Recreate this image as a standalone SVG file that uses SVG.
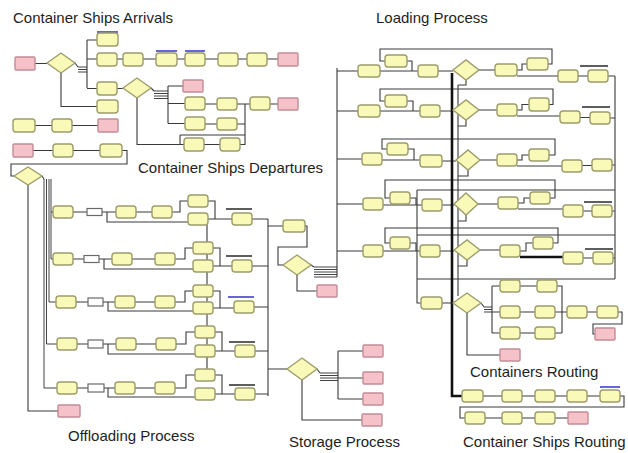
<svg xmlns="http://www.w3.org/2000/svg" width="628" height="453" viewBox="0 0 628 453">
<style>
.y{fill:#fafab8;stroke:#9c9c6c;stroke-width:1.4}
.p{fill:#f4c2c8;stroke:#c48c96;stroke-width:1.4}
.w{fill:#fff;stroke:#6a6a6a;stroke-width:1.2}
.c{fill:none;stroke:#3a3a3a;stroke-width:1.1}
.bus{fill:none;stroke:#2e2e2e;stroke-width:0.9}
.k{fill:none;stroke:#111;stroke-width:2.6}
.m{fill:none;stroke:#2a2a2a;stroke-width:1.4}
.bl{fill:none;stroke:#3434c8;stroke-width:1.6}
.t{font-family:"Liberation Sans",Arial,sans-serif;font-size:15px;fill:#1e1e1e}
</style>
<rect width="628" height="453" fill="#fff"/>
<g id="connectors">
<path class="c" d="M35 63.5H47M75 63L78 67M87 40V88M87 40H97M87 59H97M87 88.5H97M117 59H123M143 59H156M177 59H185M205 59H218M238 59H247M267 59H278M61 73V106.5H97M117 88.5H123M137 98V144.5H184M151 88L154 91M168 86V123.5M168 86H183M168 103.5H185M168 123.5H185M205 104H217M237 104H250M270 104H278M245 104V145M205 124H217M237 124H245M204 144.5H220M240 144.5H245M180 135H245M180 135V144.5"/>
<path class="bus" d="M78 67H87M78 69.5H87M78 72H87M154 91H168M154 93.5H168M154 96H168M154 98.5H168"/>
<path class="c" d="M35 125.5H52M72 125.5H98M33 150.5H53M73 150.5H100M122 150.5H127V164H11V176H14"/>
<path class="c" d="M28 185V411H58M42 176L44 179"/>
<path class="bus" d="M44 179V388M46.5 179V344M49 179V302M51 179V259M51 212H53M51 259H53M49 302H56M46.5 344H57M44 388H57"/>
<path class="c" d="M73 212H87M102 212H116M136 212H152M172 212H180V201H188M107 212V222H188M208 201H215V219M208 219H232M252 219H268"/>
<path class="c" d="M73 259H84M99 259H112M132 259H155M175 259H185V248H193M104 259V269H193M213 248H220V266M213 266H232M252 266H268"/>
<path class="c" d="M76 302H88M103 302H115M135 302H155M175 302H185V291H193M108 302V311H193M213 291H220V308M213 308H234M254 307H268"/>
<path class="c" d="M77 344H88M103 344H116M136 344H156M176 344H186V332H195M108 344V354H195M215 332H222V351M215 351H235M255 351H268"/>
<path class="c" d="M77 388H88M104 388H115M135 388H155M175 388H186V375H195M108 388V397H195M215 375H222V394M215 394H235M255 394H268"/>
<path class="c" d="M207 225V370M268 219V396M268 369H287"/>
<path class="m" d="M226 209H252M226 256H252M229 342H255M229 385H255"/>
<path class="bl" d="M228 297H254M97 32H118M156 51H177M185 51H205M600 387H620"/>
<path class="c" d="M268 226H283M305 226H307V247H278V265H283M297 275V291H317M311 265L314 267M337 68V277M337 71H358M337 111H358M337 159H362M337 204H363M337 251H363"/>
<path class="bus" d="M314 267H337M314 269.5H337M314 272H337M314 274.5H337M314 277H337"/>
<path class="c" d="M380 71H418M407 61H412V71M438 71H453M548 64H552V49H380V61H385M479 70H495M517 70H522V64H527M517 76H558M578 76H588M608 76H615M466 80V85H458"/>
<path class="c" d="M380 111H420M407 101H413V111M440 111H453M549 104.5H553V89H380V101H385M479 110H497M517 110H522V104.5H529M517 116H560M580 117.5H590M610 118H615M466 120V126H458"/>
<path class="c" d="M382 160H420M408 149H414V160M442 161H456M549 155H555V139H382V149H387M480 160H497M517 160H522V155H529M517 166H562M582 165.5H592M612 165H615M468 170V176H458"/>
<path class="c" d="M383 205H422M410 198H416V205M442 205H454M550 198H555V180H385V198H390M478 204H498M518 203H524V198H530M518 209H563M583 211H592M612 211H615M466 215V221H458"/>
<path class="c" d="M383 251H420M410 243H416V251M440 251H454M553 243H558V228H385V243H390M480 250H500M520 251H526V243H533M583 258H593M613 258H615M467 260V266H458"/>
<path class="k" d="M520 257H563"/>
<path class="m" d="M580 66H608M582 107H610M584 202H612M585 249H613"/>
<path class="c" d="M615 76V279M615 190H417M615 235H417M615 279H417M417 190V303H421M458 85V296M442 303H453"/>
<path class="k" d="M452 73V396H462"/>
<path class="c" d="M481 303L484 307M492 286V333M492 286H500M520 286H537M557 286H562V333M492 312H500M520 312H535M555 312H567M587 312H597M618 312H622V324H593V334H595M492 333H500M520 333H535M555 333H562M467 313V355H500"/>
<path class="bus" d="M484 307H492M484 309.5H492M484 312H492"/>
<path class="c" d="M483 396H502M522 396H535M555 396H567M587 396H600M620 396H624V407H460V418H465M485 418H502M522 418H535M555 418H568"/>
<path class="c" d="M317 369L320 373M338 351V399M338 351H363M338 378H363M338 399H363M302 380V420H362"/>
<path class="bus" d="M320 373H338M320 375.5H338M320 378H338M320 380.5H338"/>
</g>
<g id="arrivals">
<g id="a1"><rect class="p" x="15" y="57" width="20" height="13" rx="1"/></g>
<g id="ad1"><polygon class="y" points="47,63 61,53 75,63 61,73"/></g>
<g id="a2"><rect class="y" x="97" y="33" width="21" height="13" rx="3"/></g>
<g id="a3"><rect class="y" x="97" y="53" width="20" height="13" rx="3"/></g>
<g id="a4"><rect class="y" x="123" y="53" width="20" height="13" rx="3"/></g>
<g id="a5"><rect class="y" x="156" y="53" width="21" height="13" rx="3"/></g>
<g id="a6"><rect class="y" x="185" y="53" width="20" height="13" rx="3"/></g>
<g id="a7"><rect class="y" x="218" y="53" width="20" height="13" rx="3"/></g>
<g id="a8"><rect class="y" x="247" y="53" width="20" height="13" rx="3"/></g>
<g id="a9"><rect class="p" x="278" y="53" width="20" height="13" rx="1"/></g>
<g id="a10"><rect class="y" x="97" y="82" width="20" height="13" rx="3"/></g>
<g id="ad2"><polygon class="y" points="123,88 137,78 151,88 137,98"/></g>
<g id="a11"><rect class="y" x="97" y="100" width="21" height="13" rx="3"/></g>
<g id="e1"><rect class="y" x="13" y="119" width="22" height="13" rx="3"/></g>
<g id="e2"><rect class="y" x="52" y="119" width="20" height="13" rx="3"/></g>
<g id="e3"><rect class="p" x="98" y="119" width="20" height="13" rx="1"/></g>
<g id="f1"><rect class="p" x="13" y="144" width="20" height="13" rx="1"/></g>
<g id="f2"><rect class="y" x="53" y="144" width="20" height="13" rx="3"/></g>
<g id="f3"><rect class="y" x="100" y="144" width="22" height="13" rx="3"/></g>
</g>
<g id="departures">
<g id="d1"><rect class="p" x="183" y="80" width="20" height="12" rx="1"/></g>
<g id="d2"><rect class="y" x="185" y="97" width="20" height="13" rx="3"/></g>
<g id="d3"><rect class="y" x="217" y="98" width="20" height="12" rx="3"/></g>
<g id="d4"><rect class="y" x="250" y="97" width="20" height="13" rx="3"/></g>
<g id="d5"><rect class="p" x="278" y="98" width="20" height="12" rx="1"/></g>
<g id="d6"><rect class="y" x="185" y="117" width="20" height="13" rx="3"/></g>
<g id="d7"><rect class="y" x="217" y="118" width="20" height="12" rx="3"/></g>
<g id="d8"><rect class="y" x="184" y="138" width="20" height="13" rx="3"/></g>
<g id="d9"><rect class="y" x="220" y="138" width="20" height="13" rx="3"/></g>
</g>
<g id="offloading">
<g id="od"><polygon class="y" points="14,176 28,167 42,176 28,185"/></g>
<g id="op"><rect class="p" x="58" y="405" width="22" height="12" rx="1"/></g>
<g id="o1l"><rect class="y" x="53" y="206" width="20" height="12" rx="3"/></g>
<g id="o1w"><rect class="w" x="87" y="208.5" width="15" height="7"/></g>
<g id="o1b"><rect class="y" x="116" y="206" width="20" height="12" rx="3"/></g>
<g id="o1c"><rect class="y" x="152" y="206" width="20" height="12" rx="3"/></g>
<g id="o1u"><rect class="y" x="188" y="195" width="20" height="12" rx="3"/></g>
<g id="o1d"><rect class="y" x="188" y="213" width="20" height="12" rx="3"/></g>
<g id="o1f"><rect class="y" x="232" y="213" width="20" height="12" rx="3"/></g>
<g id="o2l"><rect class="y" x="53" y="253" width="20" height="12" rx="3"/></g>
<g id="o2w"><rect class="w" x="84" y="255.5" width="15" height="7"/></g>
<g id="o2b"><rect class="y" x="112" y="253" width="20" height="12" rx="3"/></g>
<g id="o2c"><rect class="y" x="155" y="253" width="20" height="12" rx="3"/></g>
<g id="o2u"><rect class="y" x="193" y="242" width="20" height="12" rx="3"/></g>
<g id="o2d"><rect class="y" x="193" y="260" width="20" height="12" rx="3"/></g>
<g id="o2f"><rect class="y" x="232" y="260" width="20" height="12" rx="3"/></g>
<g id="o3l"><rect class="y" x="56" y="296" width="20" height="12" rx="3"/></g>
<g id="o3w"><rect class="w" x="88" y="298" width="15" height="8"/></g>
<g id="o3b"><rect class="y" x="115" y="296" width="20" height="12" rx="3"/></g>
<g id="o3c"><rect class="y" x="155" y="296" width="20" height="12" rx="3"/></g>
<g id="o3u"><rect class="y" x="193" y="285" width="20" height="12" rx="3"/></g>
<g id="o3d"><rect class="y" x="193" y="302" width="20" height="12" rx="3"/></g>
<g id="o3f"><rect class="y" x="234" y="301" width="20" height="12" rx="3"/></g>
<g id="o4l"><rect class="y" x="57" y="338" width="20" height="12" rx="3"/></g>
<g id="o4w"><rect class="w" x="88" y="340" width="15" height="8"/></g>
<g id="o4b"><rect class="y" x="116" y="338" width="20" height="12" rx="3"/></g>
<g id="o4c"><rect class="y" x="156" y="338" width="20" height="12" rx="3"/></g>
<g id="o4u"><rect class="y" x="195" y="326" width="20" height="12" rx="3"/></g>
<g id="o4d"><rect class="y" x="195" y="345" width="20" height="12" rx="3"/></g>
<g id="o4f"><rect class="y" x="235" y="345" width="20" height="12" rx="3"/></g>
<g id="o5l"><rect class="y" x="57" y="382" width="20" height="12" rx="3"/></g>
<g id="o5w"><rect class="w" x="88" y="384" width="16" height="8"/></g>
<g id="o5b"><rect class="y" x="115" y="382" width="20" height="12" rx="3"/></g>
<g id="o5c"><rect class="y" x="155" y="382" width="20" height="12" rx="3"/></g>
<g id="o5u"><rect class="y" x="195" y="369" width="20" height="12" rx="3"/></g>
<g id="o5d"><rect class="y" x="195" y="388" width="20" height="12" rx="3"/></g>
<g id="o5f"><rect class="y" x="235" y="388" width="20" height="12" rx="3"/></g>
</g>
<g id="transfer">
<g id="g1"><rect class="y" x="283" y="220" width="22" height="12" rx="3"/></g>
<g id="sd1"><polygon class="y" points="283,265 297,255 311,265 297,275"/></g>
<g id="gp"><rect class="p" x="317" y="285" width="20" height="12" rx="1"/></g>
</g>
<g id="storage">
<g id="sd2"><polygon class="y" points="287,369 302,358 317,369 302,380"/></g>
<g id="s1"><rect class="p" x="363" y="345" width="20" height="12" rx="1"/></g>
<g id="s2"><rect class="p" x="363" y="372" width="20" height="12" rx="1"/></g>
<g id="s3"><rect class="p" x="363" y="393" width="20" height="12" rx="1"/></g>
<g id="s4"><rect class="p" x="362" y="414" width="20" height="12" rx="1"/></g>
</g>
<g id="loading">
<g id="l1a"><rect class="y" x="358" y="65" width="22" height="12" rx="3"/></g>
<g id="l1u"><rect class="y" x="385" y="55" width="22" height="12" rx="3"/></g>
<g id="l1c"><rect class="y" x="418" y="65" width="20" height="12" rx="3"/></g>
<g id="l1d"><polygon class="y" points="453,70 466,60 479,70 466,80"/></g>
<g id="l1e"><rect class="y" x="495" y="64" width="22" height="12" rx="3"/></g>
<g id="l1f"><rect class="y" x="527" y="58" width="21" height="12" rx="3"/></g>
<g id="l1g"><rect class="y" x="558" y="70" width="20" height="12" rx="3"/></g>
<g id="l1h"><rect class="y" x="588" y="70" width="20" height="12" rx="3"/></g>
<g id="l2a"><rect class="y" x="358" y="105" width="22" height="12" rx="3"/></g>
<g id="l2u"><rect class="y" x="385" y="95" width="22" height="12" rx="3"/></g>
<g id="l2c"><rect class="y" x="420" y="105" width="20" height="12" rx="3"/></g>
<g id="l2d"><polygon class="y" points="453,110 466,100 479,110 466,120"/></g>
<g id="l2e"><rect class="y" x="497" y="104" width="20" height="12" rx="3"/></g>
<g id="l2f"><rect class="y" x="529" y="98" width="20" height="13" rx="3"/></g>
<g id="l2g"><rect class="y" x="560" y="111" width="20" height="12" rx="3"/></g>
<g id="l2h"><rect class="y" x="590" y="112" width="20" height="12" rx="3"/></g>
<g id="l3a"><rect class="y" x="362" y="153" width="20" height="12" rx="3"/></g>
<g id="l3u"><rect class="y" x="387" y="143" width="21" height="12" rx="3"/></g>
<g id="l3c"><rect class="y" x="420" y="155" width="22" height="12" rx="3"/></g>
<g id="l3d"><polygon class="y" points="456,160 468,150 480,160 468,170"/></g>
<g id="l3e"><rect class="y" x="497" y="154" width="20" height="12" rx="3"/></g>
<g id="l3f"><rect class="y" x="529" y="149" width="20" height="12" rx="3"/></g>
<g id="l3g"><rect class="y" x="562" y="160" width="20" height="12" rx="3"/></g>
<g id="l3h"><rect class="y" x="592" y="159" width="20" height="12" rx="3"/></g>
<g id="l4a"><rect class="y" x="363" y="198" width="20" height="12" rx="3"/></g>
<g id="l4u"><rect class="y" x="390" y="192" width="20" height="12" rx="3"/></g>
<g id="l4c"><rect class="y" x="422" y="199" width="20" height="12" rx="3"/></g>
<g id="l4d"><polygon class="y" points="454,204 466,193 478,204 466,215"/></g>
<g id="l4e"><rect class="y" x="498" y="197" width="20" height="12" rx="3"/></g>
<g id="l4f"><rect class="y" x="530" y="192" width="20" height="12" rx="3"/></g>
<g id="l4g"><rect class="y" x="563" y="205" width="20" height="12" rx="3"/></g>
<g id="l4h"><rect class="y" x="592" y="205" width="20" height="12" rx="3"/></g>
<g id="l5a"><rect class="y" x="363" y="245" width="20" height="12" rx="3"/></g>
<g id="l5u"><rect class="y" x="390" y="237" width="20" height="12" rx="3"/></g>
<g id="l5c"><rect class="y" x="420" y="245" width="20" height="12" rx="3"/></g>
<g id="l5d"><polygon class="y" points="454,250 467,240 480,250 467,260"/></g>
<g id="l5e"><rect class="y" x="500" y="245" width="20" height="12" rx="3"/></g>
<g id="l5f"><rect class="y" x="533" y="237" width="20" height="12" rx="3"/></g>
<g id="l5g"><rect class="y" x="563" y="252" width="20" height="12" rx="3"/></g>
<g id="l5h"><rect class="y" x="593" y="252" width="20" height="12" rx="3"/></g>
</g>
<g id="routing">
<g id="r0"><rect class="y" x="421" y="297" width="21" height="12" rx="3"/></g>
<g id="rd"><polygon class="y" points="453,303 467,293 481,303 467,313"/></g>
<g id="r1a"><rect class="y" x="500" y="280" width="20" height="12" rx="3"/></g>
<g id="r1b"><rect class="y" x="537" y="280" width="20" height="12" rx="3"/></g>
<g id="r2a"><rect class="y" x="500" y="306" width="20" height="12" rx="3"/></g>
<g id="r2b"><rect class="y" x="535" y="306" width="20" height="12" rx="3"/></g>
<g id="r2c"><rect class="y" x="567" y="306" width="20" height="12" rx="3"/></g>
<g id="r2d"><rect class="y" x="597" y="306" width="21" height="12" rx="3"/></g>
<g id="r2p"><rect class="p" x="595" y="328" width="20" height="12" rx="1"/></g>
<g id="r3a"><rect class="y" x="500" y="327" width="20" height="12" rx="3"/></g>
<g id="r3b"><rect class="y" x="535" y="327" width="20" height="12" rx="3"/></g>
<g id="rp"><rect class="p" x="500" y="349" width="20" height="12" rx="1"/></g>
</g>
<g id="ship-routing">
<g id="c1"><rect class="y" x="462" y="390" width="21" height="12" rx="3"/></g>
<g id="c2"><rect class="y" x="502" y="390" width="20" height="12" rx="3"/></g>
<g id="c3"><rect class="y" x="535" y="390" width="20" height="12" rx="3"/></g>
<g id="c4"><rect class="y" x="567" y="390" width="20" height="12" rx="3"/></g>
<g id="c5"><rect class="y" x="600" y="390" width="20" height="12" rx="3"/></g>
<g id="c6"><rect class="y" x="465" y="412" width="20" height="12" rx="3"/></g>
<g id="c7"><rect class="y" x="502" y="412" width="20" height="12" rx="3"/></g>
<g id="c8"><rect class="y" x="535" y="412" width="20" height="12" rx="3"/></g>
<g id="c9"><rect class="p" x="568" y="412" width="20" height="12" rx="1"/></g>
</g>
<g id="labels">
<text class="t" x="13" y="23">Container Ships Arrivals</text>
<text class="t" x="376" y="23">Loading Process</text>
<text class="t" x="138" y="173">Container Ships Departures</text>
<text class="t" x="470" y="377">Containers Routing</text>
<text class="t" x="68" y="441">Offloading Process</text>
<text class="t" x="289" y="447">Storage Process</text>
<text class="t" x="463" y="447">Container Ships Routing</text>
</g>
</svg>
